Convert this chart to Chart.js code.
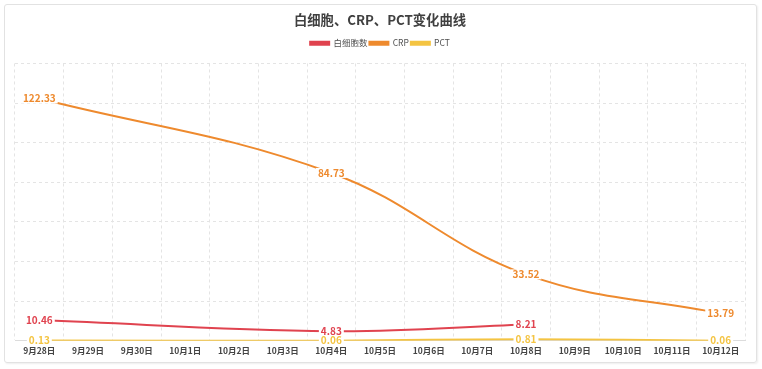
<!DOCTYPE html>
<html>
<head>
<meta charset="utf-8">
<script src="https://cdn.jsdelivr.net/npm/chart.js@4/dist/chart.umd.min.js"></script>
<style>
  html, body { margin: 0; padding: 0; background: #fff; }
  #wrap { position: relative; width: 762px; height: 369px; }
  #card { position: absolute; left: 4px; top: 4px; width: 751px; height: 357px;
          border: 1px solid #e2e2e2; border-radius: 3px; box-shadow: 1px 1px 2px rgba(0,0,0,0.07); }
  canvas { position: absolute; left: 0; top: 0; }
</style>
</head>
<body>
<div id="wrap">
  <div id="card"></div>
  <canvas id="c" width="762" height="369"></canvas>
</div>
<script>
const categories = ['9月28日','9月29日','9月30日','10月1日','10月2日','10月3日','10月4日','10月5日','10月6日','10月7日','10月8日','10月9日','10月10日','10月11日','10月12日'];
const wbc = [10.46, null, null, null, null, null, 4.83, null, null, null, 8.21, null, null, null, null];
const crp = [122.33, null, null, null, null, null, 84.73, null, null, null, 33.52, null, null, null, 13.79];
const pct = [0.13, null, null, null, null, null, 0.06, null, null, null, 0.81, null, null, null, 0.06];
const seriesNames = ['白细胞数', 'CRP', 'PCT'];
const yTicks = { min: 0, max: 140, step: 20 };

const colors = ['#e0434f', '#ee8a2e', '#f4c442'];
const FONT = '"Noto Sans CJK SC", "Noto Sans", sans-serif';

const labelPlugin = {
  id: 'pointLabels',
  afterDatasetsDraw(chart) {
    const ctx = chart.ctx;
    ctx.save();
    ctx.font = 'bold 10px ' + FONT;
    ctx.textAlign = 'center';
    ctx.textBaseline = 'middle';
    const items = [];
    chart.data.datasets.forEach((ds, i) => {
      const meta = chart.getDatasetMeta(i);
      meta.data.forEach((pt, j) => {
        const v = ds.data[j];
        if (v === null || v === undefined) return;
        items.push({ x: pt.x, y: pt.y, txt: v.toFixed(2), color: ds.borderColor });
      });
    });
    items.forEach(it => {
      const w = ctx.measureText(it.txt).width;
      ctx.fillStyle = '#ffffff';
      ctx.fillRect(it.x - w / 2 - 2, it.y - 5, w + 4, 10);
    });
    items.forEach(it => {
      ctx.fillStyle = it.color;
      ctx.fillText(it.txt, it.x, it.y);
    });
    ctx.restore();
  }
};

const mk = (label, data, color) => ({
  label, data, borderColor: color, backgroundColor: color, xAxisID: 'x', yAxisID: 'y',
  borderWidth: 2, pointRadius: 0, pointHoverRadius: 0, tension: 0.4, spanGaps: true, fill: false
});

new Chart(document.getElementById('c'), {
  type: 'line',
  data: {
    labels: categories,
    datasets: [mk(seriesNames[0], wbc, colors[0]), mk(seriesNames[1], crp, colors[1]), mk(seriesNames[2], pct, colors[2])]
  },
  options: {
    responsive: false,
    animation: false,
    layout: { padding: { left: 15, right: 17, top: 4, bottom: 8 } },
    plugins: {
      tooltip: { enabled: false },
      title: {
        display: true, text: '白细胞、CRP、PCT变化曲线', color: '#404040',
        font: { family: FONT, size: 13.3, weight: 'bold' }, padding: { top: 8, bottom: 9 }
      },
      legend: {
        display: true,
        labels: { boxWidth: 19, boxHeight: 3, color: '#505050', font: { family: FONT, size: 8.5 }, padding: 2 }
      }
    },
    scales: {
      x: {
        offset: true,
        grid: { offset: true, color: '#e4e4e4', drawTicks: false },
        border: { display: true, color: '#dcdcdc', dash: [3, 3] },
        ticks: { autoSkip: false, maxRotation: 0, padding: 5, color: '#444', font: { family: FONT, size: 8.5, weight: 'bold' } }
      },
      xTop: {
        type: 'category', position: 'top', display: true,
        grid: { display: false, drawTicks: false },
        border: { display: false },
        ticks: { display: false },
        afterFit(s) { s.height = 6; }
      },
      y: {
        min: yTicks.min, max: yTicks.max,
        ticks: { display: false, stepSize: yTicks.step },
        grid: { color: '#e4e4e4', drawTicks: false },
        border: { display: false, dash: [3, 3] }
      }
    }
  },
  plugins: [labelPlugin]
});
</script>
</body>
</html>
